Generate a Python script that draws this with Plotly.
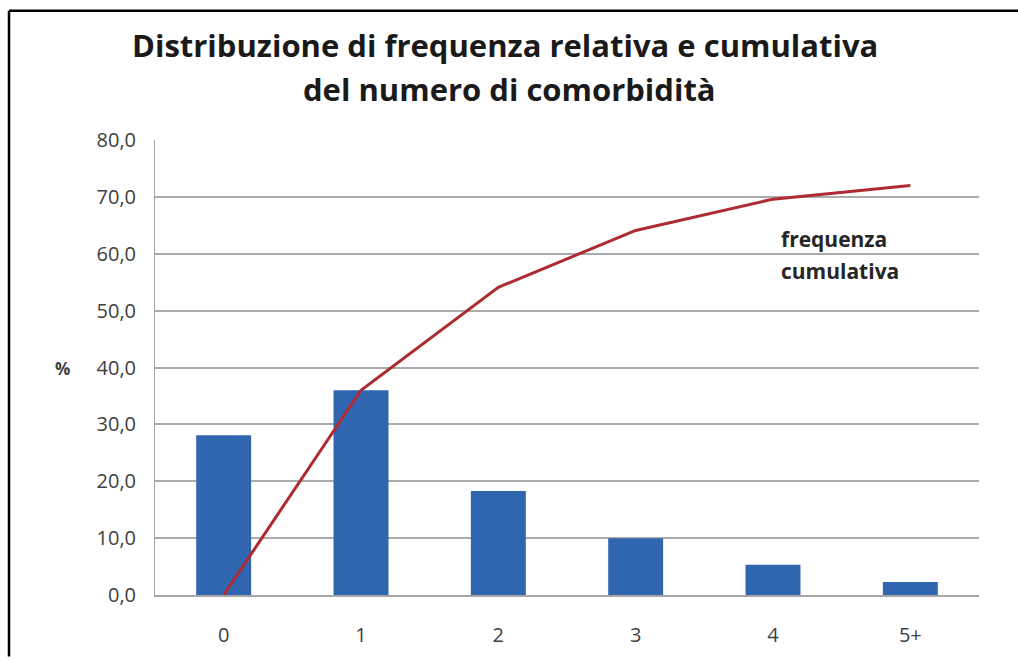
import plotly.graph_objects as go

categories = ["0", "1", "2", "3", "4", "5+"]
relative_freq = [28.1, 36.0, 18.3, 10.0, 5.3, 2.3]
cumulative_line = [0.0, 36.0, 54.1, 64.1, 69.6, 72.0]
y_ticks = [0, 10, 20, 30, 40, 50, 60, 70, 80]

L, R, T, B = 155, 39, 140, 62
W, H = 1018, 660
pw, ph = W - L - R, H - T - B

def px(x):
    return (x - L) / pw

def py(y):
    return (H - B - y) / ph

fig = go.Figure()
fig.add_trace(go.Bar(x=categories, y=relative_freq, marker_color="#3065B0",
                     marker_line_width=0, width=0.4, showlegend=False))
fig.add_trace(go.Scatter(x=categories, y=cumulative_line, mode="lines",
                         line=dict(color="#AE2B33", width=3), showlegend=False))

font_family = "'Open Sans', Lato, sans-serif"
fig.update_layout(
    width=W, height=H,
    margin=dict(l=L, r=R, t=T, b=B),
    paper_bgcolor="white", plot_bgcolor="white",
    separators=",.",
    font=dict(family=font_family, color="#404040", size=20),
    xaxis=dict(showgrid=False, showline=True, linecolor="#A6A6A6", linewidth=2,
               ticks="", tickfont=dict(size=20, color="#404040"), ticklabelstandoff=21),
    yaxis=dict(range=[0, 80], tickvals=y_ticks, tickformat=".1f", showgrid=True,
               gridcolor="#ABABAB", gridwidth=2, showline=True, linecolor="#A6A6A6",
               linewidth=1, ticks="", zeroline=False,
               tickfont=dict(size=20, color="#404040"), ticklabelstandoff=14),
    annotations=[
        dict(xref="paper", yref="paper", x=px(505), y=py(44), text="<b>Distribuzione di frequenza relativa e cumulativa</b>",
             showarrow=False, font=dict(size=31, color="#1A1A1A", family=font_family), xanchor="center", yanchor="middle"),
        dict(xref="paper", yref="paper", x=px(509), y=py(89), text="<b>del numero di comorbidità</b>",
             showarrow=False, font=dict(size=31, color="#1A1A1A", family=font_family), xanchor="center", yanchor="middle"),
        dict(xref="paper", yref="paper", x=px(779), y=py(240), text="<b>frequenza</b>",
             showarrow=False, font=dict(size=21, color="#262626", family=font_family), xanchor="left", yanchor="middle"),
        dict(xref="paper", yref="paper", x=px(779), y=py(272), text="<b>cumulativa</b>",
             showarrow=False, font=dict(size=21, color="#262626", family=font_family), xanchor="left", yanchor="middle"),
        dict(xref="paper", yref="paper", x=px(62), y=py(370), text="<b>%</b>",
             showarrow=False, font=dict(size=17, color="#404040", family=font_family), xanchor="center", yanchor="middle"),
    ],
    shapes=[
        dict(type="line", xref="paper", yref="paper", x0=px(9), x1=px(1018), y0=py(10), y1=py(10),
             line=dict(color="black", width=2.5)),
        dict(type="line", xref="paper", yref="paper", x0=px(9), x1=px(9), y0=py(10), y1=py(660),
             line=dict(color="black", width=2.5)),
    ],
)

fig.write_html("out.html", config={"displayModeBar": False},
               post_script="document.body.style.margin='0';document.body.style.overflow='hidden';")
